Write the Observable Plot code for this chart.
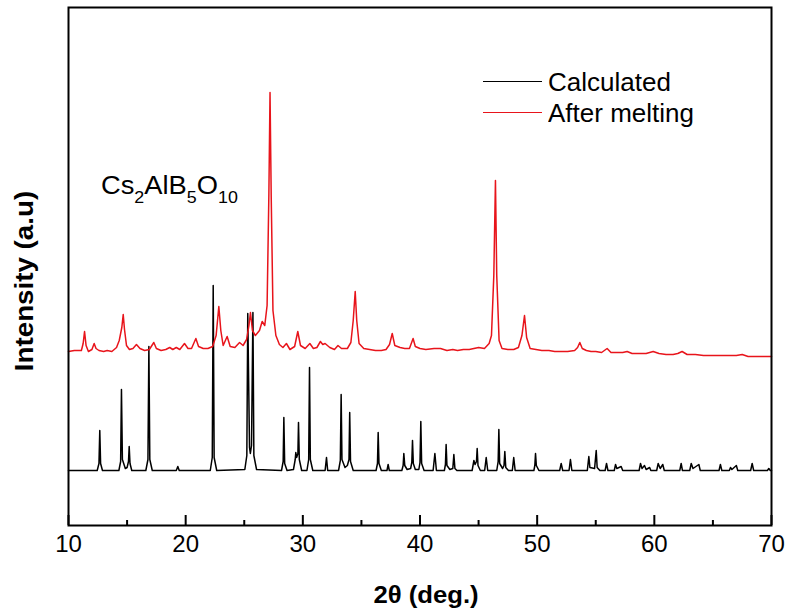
<!DOCTYPE html>
<html>
<head>
<meta charset="utf-8">
<script src="https://cdn.jsdelivr.net/npm/d3@7"></script>
<script src="https://cdn.jsdelivr.net/npm/@observablehq/plot@0.6"></script>
<style>
  html, body { margin: 0; padding: 0; background: #fff; }
  #wrap { position: relative; width: 792px; height: 615px; font-family: "Liberation Sans", Arial, sans-serif; }
  #wrap svg { position: absolute; left: 0; top: 0; }
  .ov { position: absolute; white-space: nowrap; color: #000; line-height: 1; }
  .sw { position: absolute; height: 0; border-top: 2px solid; }
  sub { font-size: 17px; vertical-align: -9px; line-height: 0; }
</style>
</head>
<body>
<div id="wrap"></div>
<script>
// ---- data (2θ in degrees, intensity in arbitrary units) ----
const calculated = [
  [10,55],[12.45,55],[12.6,62],[12.67,95],[12.74,62],[12.9,55],
  [14.3,55],[14.45,64],[14.52,136],[14.6,66],[14.85,57],[15.0,58],[15.12,64],[15.18,79],[15.25,62],[15.4,55],
  [16.6,55],[16.78,66],[16.86,179],[16.94,66],[17.15,55],
  [19.2,55],[19.33,59],[19.45,55],
  [22.1,55],[22.27,68],[22.35,240],[22.43,68],[22.65,55],
  [25.05,56],[25.22,70],[25.30,212],[25.45,78],[25.52,72],[25.62,80],[25.74,213],[25.82,70],[26.05,56],
  [28.18,55],[28.32,64],[28.38,108],[28.45,62],[28.65,55],
  [29.2,56],[29.35,66],[29.40,73],[29.47,68],[29.58,72],[29.63,103],[29.7,66],[29.9,55],
  [30.35,55],[30.5,66],[30.57,158],[30.64,66],[30.85,55],
  [31.9,55],[32.02,68],[32.12,55],
  [33.05,55],[33.2,65],[33.27,131],[33.34,66],[33.6,58],[33.8,60],[33.94,66],[34.0,113],[34.07,64],[34.3,55],
  [36.25,55],[36.37,62],[36.43,93],[36.5,62],[36.7,55],
  [37.18,55],[37.28,61],[37.38,55],
  [38.45,55],[38.56,60],[38.62,72],[38.7,60],[38.9,56],[39.2,57],[39.3,63],[39.36,85],[39.43,62],[39.6,56],
  [39.9,56],[40.0,63],[40.07,104],[40.14,62],[40.35,55],
  [41.12,55],[41.27,72],[41.4,55],
  [42.08,55],[42.17,61],[42.23,81],[42.3,60],[42.55,56],[42.8,57],[42.89,71],[42.98,57],[43.15,55],
  [44.45,55],[44.6,65],[44.7,61],[44.82,64],[44.88,77],[44.95,60],[45.15,55],
  [45.52,55],[45.65,68],[45.78,55],
  [46.55,55],[46.67,64],[46.73,96],[46.8,62],[47.05,57],[47.17,60],[47.24,74],[47.32,58],[47.55,55],
  [47.88,55],[48.0,68],[48.12,55],
  [49.72,55],[49.8,60],[49.86,72],[49.93,60],[50.15,55],
  [51.92,55],[52.05,62],[52.18,55],
  [52.72,55],[52.84,66],[52.96,55],
  [54.28,55],[54.41,69],[54.5,58],[54.9,57],[55.04,75],[55.12,58],[55.35,55],
  [55.8,55],[55.92,62],[56.04,55],
  [56.58,55],[56.69,61],[56.8,57],[57.17,59],[57.3,55],
  [58.7,55],[58.82,62],[58.95,57],[59.16,60],[59.3,56],[59.6,58],[59.7,55],
  [60.2,55],[60.33,62],[60.5,57],[60.72,61],[60.85,55],
  [62.17,55],[62.29,62],[62.4,55],
  [63.02,55],[63.15,62],[63.3,57],[63.8,61],[63.92,55],
  [65.52,55],[65.64,61],[65.76,55],
  [66.4,55],[66.5,58],[66.62,56],[67.0,60],[67.12,55],
  [68.22,55],[68.35,62],[68.48,55],
  [69.65,55],[69.77,57],[69.9,55],[70,55]
];

const afterMelting = [
  [10,174],[10.5,175],[11.1,175],[11.25,182],[11.37,194],[11.5,180],[11.7,174],[12.0,176],[12.19,182],[12.35,177],
  [12.6,175],[13.0,174],[13.3,175],[13.7,174],[14.1,178],[14.33,185],[14.55,198],[14.67,211],[14.78,196],[14.95,180],
  [15.2,176],[15.5,177],[15.8,181],[16.1,177],[16.5,175],[16.9,176],[17.28,183],[17.5,177],[17.9,175],[18.3,176],
  [18.64,178],[18.9,176],[19.2,178],[19.5,176],[19.9,182],[20.2,177],[20.5,177],[20.87,187],[21.1,179],[21.5,177],
  [21.9,177],[22.3,179],[22.6,190],[22.83,219],[23.0,195],[23.2,180],[23.54,189],[23.8,179],[24.2,178],[24.6,183],
  [24.9,180],[25.2,186],[25.4,200],[25.53,213],[25.7,195],[25.95,190],[26.3,195],[26.53,204],[26.75,200],[26.95,220],
  [27.1,330],[27.2,433],[27.3,330],[27.45,215],[27.7,190],[28.0,181],[28.3,178],[28.6,182],[28.9,176],[29.3,179],
  [29.57,194],[29.8,180],[30.2,177],[30.6,182],[30.9,177],[31.2,178],[31.5,184],[31.7,181],[31.9,182],[32.3,178],
  [32.7,176],[33.0,180],[33.3,177],[33.8,177],[34.1,183],[34.3,205],[34.47,234],[34.6,205],[34.8,182],[35.2,177],
  [35.7,176],[36.2,175],[36.7,175],[37.1,176],[37.4,181],[37.63,192],[37.85,180],[38.3,178],[38.7,177],[39.1,177],
  [39.41,187],[39.6,179],[40.0,177],[40.5,176],[41.2,177],[41.75,177],[42.3,175],[42.8,176],[43.2,175],[43.7,176],
  [44.2,176],[44.6,177],[45.0,178],[45.5,177],[45.9,182],[46.1,190],[46.3,250],[46.44,345],[46.55,250],[46.75,185],
  [47.0,177],[47.5,176],[48.0,176],[48.4,178],[48.7,190],[48.92,210],[49.1,188],[49.4,177],[49.9,176],[50.4,175],
  [51.0,175],[51.5,174],[52.0,174],[52.6,174],[53.2,175],[53.45,178],[53.64,183],[53.85,177],[54.2,175],[54.6,174],
  [55.0,174],[55.5,173],[55.97,177],[56.3,173],[56.8,173],[57.3,173],[57.68,174],[58.1,172],[58.7,172],[59.3,172],
  [59.9,174],[60.4,172],[61.0,171],[61.6,171],[62.0,172],[62.37,174],[62.8,171],[63.5,171],[64.2,170],[65.0,170],
  [65.7,170],[66.4,170],[67.0,170],[67.5,171],[68.0,169],[68.6,169],[69.3,169],[70,169]
];

const majorTicks = [10, 20, 30, 40, 50, 60, 70];
const minorTicks = [15, 25, 35, 45, 55, 65];
const seriesNames = ["Calculated", "After melting"];
const seriesColors = ["#000000", "#e8141b"];
const xTitle = "2θ (deg.)";
const yTitle = "Intensity (a.u)";

// ---- chart ----
const chart = Plot.plot({
  width: 792,
  height: 615,
  marginLeft: 68,
  marginRight: 21,
  marginTop: 7,
  marginBottom: 90,
  style: { fontFamily: "'Liberation Sans', Arial, sans-serif", fontSize: "24px", color: "#000", background: "#fff" },
  x: { domain: [10, 70], ticks: majorTicks, tickSize: 0, tickPadding: 9, tickFormat: d => String(d), label: null },
  y: { domain: [0, 518], axis: null },
  marks: [
    Plot.line(calculated, { x: d => d[0], y: d => d[1], stroke: seriesColors[0], strokeWidth: 1.5 }),
    Plot.line(afterMelting, { x: d => d[0], y: d => d[1], stroke: seriesColors[1], strokeWidth: 1.5 }),
    Plot.ruleX(majorTicks, { x: d => d, y1: 0, y2: 10, stroke: "#000", strokeWidth: 2 }),
    Plot.ruleX(minorTicks, { x: d => d, y1: 0, y2: 5, stroke: "#000", strokeWidth: 2 }),
    Plot.frame({ stroke: "#000", strokeWidth: 2 })
  ]
});

const wrap = document.getElementById("wrap");
wrap.appendChild(chart);

function addText(html, css) {
  const d = document.createElement("div");
  d.className = "ov";
  d.innerHTML = html;
  Object.assign(d.style, css);
  wrap.appendChild(d);
  return d;
}

// legend
seriesNames.forEach((name, i) => {
  const sw = document.createElement("div");
  sw.className = "sw";
  Object.assign(sw.style, { left: "483px", top: (81 + i * 31) + "px", width: "59px", borderTopColor: seriesColors[i], borderTopWidth: "1.5px" });
  wrap.appendChild(sw);
  addText(name, { left: "548px", top: (70 + i * 31) + "px", fontSize: "25px", transformOrigin: "0 0", transform: "scaleX(1.04)" });
});

// compound label
addText('Cs<sub>2</sub>AlB<sub>5</sub>O<sub>10</sub>', { left: "101px", top: "172px", fontSize: "26px", transformOrigin: "0 0", transform: "scaleX(1.05)" });

// axis titles
addText(xTitle, { left: "426px", top: "583px", fontSize: "24px", fontWeight: "bold", transform: "translateX(-50%) scaleX(1.07)" });
addText(yTitle, { left: "24px", top: "281px", fontSize: "25px", fontWeight: "bold", transform: "translate(-50%,-50%) rotate(-90deg) scaleX(1.11)" });
</script>
</body>
</html>
